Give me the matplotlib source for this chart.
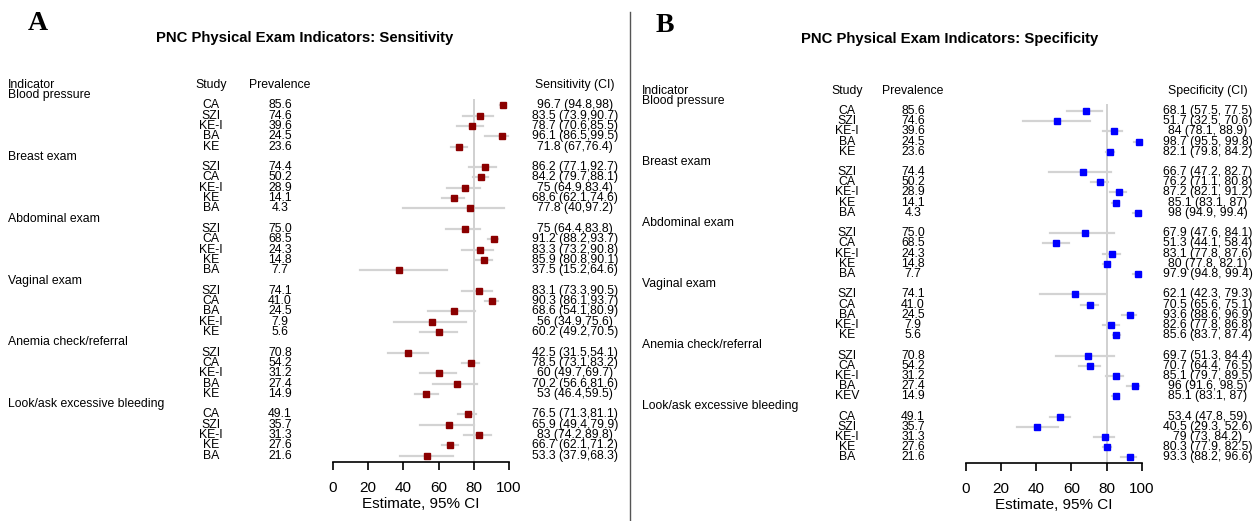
import matplotlib
matplotlib.use("Agg")
import matplotlib.pyplot as plt
import matplotlib.transforms as mtrans

plt.rcParams['font.family'] = ['Liberation Sans', 'DejaVu Sans']

indicators = ["Blood pressure", "Breast exam", "Abdominal exam", "Vaginal exam",
              "Anemia check/referral", "Look/ask excessive bleeding"]

# ---------- Sensitivity (panel A) ----------
sens_study = [["CA", "SZI", "KE-I", "BA", "KE"],
              ["SZI", "CA", "KE-I", "KE", "BA"],
              ["SZI", "CA", "KE-I", "KE", "BA"],
              ["SZI", "CA", "BA", "KE-I", "KE"],
              ["SZI", "CA", "KE-I", "BA", "KE"],
              ["CA", "SZI", "KE-I", "KE", "BA"]]
sens_prev = [[85.6, 74.6, 39.6, 24.5, 23.6],
             [74.4, 50.2, 28.9, 14.1, 4.3],
             [75.0, 68.5, 24.3, 14.8, 7.7],
             [74.1, 41.0, 24.5, 7.9, 5.6],
             [70.8, 54.2, 31.2, 27.4, 14.9],
             [49.1, 35.7, 31.3, 27.6, 21.6]]
sens_est = [[96.7, 83.5, 78.7, 96.1, 71.8],
            [86.2, 84.2, 75, 68.6, 77.8],
            [75, 91.2, 83.3, 85.9, 37.5],
            [83.1, 90.3, 68.6, 56, 60.2],
            [42.5, 78.5, 60, 70.2, 53],
            [76.5, 65.9, 83, 66.7, 53.3]]
sens_lo = [[94.8, 73.9, 70.6, 86.5, 67],
           [77.1, 79.7, 64.9, 62.1, 40],
           [64.4, 88.2, 73.2, 80.8, 15.2],
           [73.3, 86.1, 54.1, 34.9, 49.2],
           [31.5, 73.1, 49.7, 56.6, 46.4],
           [71.3, 49.4, 74.2, 62.1, 37.9]]
sens_hi = [[98, 90.7, 85.5, 99.5, 76.4],
           [92.7, 88.1, 83.4, 74.6, 97.2],
           [83.8, 93.7, 90.8, 90.1, 64.6],
           [90.5, 93.7, 80.9, 75.6, 70.5],
           [54.1, 83.2, 69.7, 81.6, 59.5],
           [81.1, 79.9, 89.8, 71.2, 68.3]]

# ---------- Specificity (panel B) ----------
spec_study = [["CA", "SZI", "KE-I", "BA", "KE"],
              ["SZI", "CA", "KE-I", "KE", "BA"],
              ["SZI", "CA", "KE-I", "KE", "BA"],
              ["SZI", "CA", "BA", "KE-I", "KE"],
              ["SZI", "CA", "KE-I", "BA", "KEV"],
              ["CA", "SZI", "KE-I", "KE", "BA"]]
spec_prev = sens_prev
spec_est = [[68.1, 51.7, 84, 98.7, 82.1],
            [66.7, 76.2, 87.2, 85.1, 98],
            [67.9, 51.3, 83.1, 80, 97.9],
            [62.1, 70.5, 93.6, 82.6, 85.6],
            [69.7, 70.7, 85.1, 96, 85.1],
            [53.4, 40.5, 79, 80.3, 93.3]]
spec_lo = [[57.5, 32.5, 78.1, 95.5, 79.8],
           [47.2, 71.1, 82.1, 83.1, 94.9],
           [47.6, 44.1, 77.8, 77.8, 94.8],
           [42.3, 65.6, 88.6, 77.8, 83.7],
           [51.3, 64.4, 79.7, 91.6, 83.1],
           [47.8, 29.3, 73, 77.9, 88.2]]
spec_hi = [[77.5, 70.6, 88.9, 99.8, 84.2],
           [82.7, 80.8, 91.2, 87, 99.4],
           [84.1, 58.4, 87.6, 82.1, 99.4],
           [79.3, 75.1, 96.9, 86.8, 87.4],
           [84.4, 76.5, 89.5, 98.5, 87],
           [59, 52.6, 84.2, 82.5, 96.6]]

xticks = [0, 20, 40, 60, 80, 100]

W, H = 1255, 521
fig = plt.figure(figsize=(W / 100, H / 100), dpi=100)
FS = 8.8


def panel(x0, x1, ytop, ybot, rowpx, colx, title, title_x, title_y, letter, letter_xy,
          studies, prevs, ests, los, his, color, ci_header, sep):
    nrows_bottom = (ybot - ytop) / rowpx
    ax = fig.add_axes([x0 / W, 1 - ybot / H, (x1 - x0) / W, (ybot - ytop) / H])
    ax.set_xlim(0, 100)
    ax.set_ylim(nrows_bottom, 0)
    for s in ["top", "left", "right"]:
        ax.spines[s].set_visible(False)
    ax.spines["bottom"].set_linewidth(1.2)
    ax.set_yticks([])
    ax.set_xticks(xticks)
    ax.tick_params(axis="x", direction="out", length=6, width=1.2, labelsize=11, pad=8)
    ax.set_xlabel("Estimate, 95% CI", fontsize=11, labelpad=1)
    ax.plot([80, 80], [1.45, nrows_bottom], color="#d0d0d0", lw=1.4, zorder=1, clip_on=False)
    tr = mtrans.blended_transform_factory(fig.transFigure, ax.transData)
    ix, sx, px, cx = colx
    ax.text(ix / W, 0, "Indicator", transform=tr, ha="left", va="center", fontsize=FS)
    ax.text(sx / W, 0, "Study", transform=tr, ha="center", va="center", fontsize=FS)
    ax.text(px / W, 0, "Prevalence", transform=tr, ha="center", va="center", fontsize=FS)
    ax.text(cx / W, 0, ci_header, transform=tr, ha="center", va="center", fontsize=FS)
    for g, name in enumerate(indicators):
        base = 1 + 6 * g
        ax.text(ix / W, base, name, transform=tr, ha="left", va="center", fontsize=FS)
        for k in range(5):
            r = base + 1 + k
            e, lo, hi = ests[g][k], los[g][k], his[g][k]
            ax.plot([lo, hi], [r, r], color="#d3d3d3", lw=1.6, zorder=2, clip_on=False)
            ax.plot([e], [r], marker="s", color=color, ms=5, zorder=3, clip_on=False)
            ax.text(sx / W, r, studies[g][k], transform=tr, ha="center", va="center", fontsize=FS)
            ax.text(px / W, r, f"{prevs[g][k]:.1f}", transform=tr, ha="center", va="center", fontsize=FS)
            ax.text(cx / W, r, f"{e:g} ({lo:g},{sep}{hi:g})", transform=tr, ha="center",
                    va="center", fontsize=FS)
    fig.text(title_x / W, 1 - title_y / H, title, ha="center", va="center",
             fontsize=10.7, fontweight="bold")
    fig.text(letter_xy[0] / W, 1 - letter_xy[1] / H, letter, ha="center", va="center",
             fontsize=20, fontweight="bold", family="Liberation Serif")
    return ax


panel(333, 509, 84.7, 461.7, 10.306, (8, 211, 280, 575),
      "PNC Physical Exam Indicators: Sensitivity", 305, 38, "A", (38, 23),
      sens_study, sens_prev, sens_est, sens_lo, sens_hi, "#8b0000", "Sensitivity (CI)", "")
panel(966, 1141.7, 90.6, 462.7, 10.19, (642, 847, 913, 1208),
      "PNC Physical Exam Indicators: Specificity", 950, 39, "B", (665, 25),
      spec_study, spec_prev, spec_est, spec_lo, spec_hi, "#0000ff", "Specificity (CI)", " ")

fig.add_artist(plt.Line2D([630 / W, 630 / W], [0, 1 - 12 / H], color="#555555", lw=1.0))

fig.savefig("out.png", dpi=100)
